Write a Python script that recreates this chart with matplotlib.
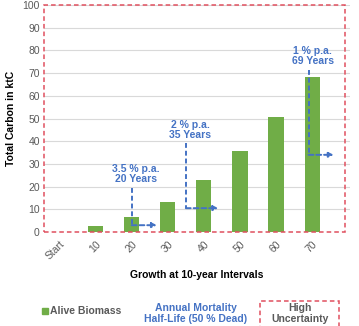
import matplotlib.pyplot as plt
import numpy as np
from matplotlib.patches import Rectangle

plt.rcParams['font.family'] = ['Liberation Sans', 'DejaVu Sans']

# data
categories = ['Start', '10', '20', '30', '40', '50', '60', '70']
alive_biomass = [0, 2.5, 6.6, 13.2, 22.9, 35.7, 50.8, 68.1]
rates = ['3.5 % p.a.', '2 % p.a.', '1 % p.a.']
half_life_years = [20, 35, 69]

green = '#70AD47'
blue = '#4472C4'
red = '#E0505F'
gray = '#595959'

fig = plt.figure(figsize=(3.59, 3.26), dpi=100)
ax = fig.add_axes([0.1226, 0.2883, 0.8524, 0.6964])

x = np.arange(len(categories))
ax.bar(x, alive_biomass, width=0.42, color=green, zorder=3)

ax.set_xlim(-0.43, 8.05)
ax.set_ylim(0, 100)
ax.set_yticks(np.arange(0, 101, 10))
ax.set_xticks(x)
ax.set_xticklabels(categories, rotation=45, ha='right', rotation_mode='anchor')
ax.tick_params(axis='both', length=0, labelsize=7.5, colors=gray, pad=3)
ax.tick_params(axis='x', pad=5)
ax.grid(axis='y', color='#D9D9D9', linewidth=0.8, zorder=0)
for s in ax.spines.values():
    s.set_visible(False)

ax.set_ylabel('Total Carbon in ktC', fontsize=7.5, fontweight='bold', labelpad=5)
ax.set_xlabel('Growth at 10-year Intervals', fontsize=7.5, fontweight='bold', labelpad=6)

# high uncertainty box on plot
ax.add_patch(Rectangle((0, 0), 0.984, 1, transform=ax.transAxes, fill=False,
                       edgecolor=red, linestyle=(0, (3, 2)), linewidth=1.1,
                       zorder=5, clip_on=False))

# half-life markers: (line top, line bottom, arrow length)
marker_geom = [(19.5, 3.0, 0.7), (39.0, 10.5, 0.9), (71.5, 34.0, 0.7)]
for rate, yrs, (top, bot, alen) in zip(rates, half_life_years, marker_geom):
    xp = yrs / 10
    ax.plot([xp, xp], [top, bot], color=blue, linestyle=(0, (2.5, 1.5)),
            linewidth=1.4, zorder=4)
    ax.annotate('', xy=(xp + alen, bot), xytext=(xp, bot),
                arrowprops=dict(arrowstyle='-|>', color=blue, linewidth=1.4,
                                linestyle=(0, (2.5, 1.5)), mutation_scale=7,
                                shrinkA=0, shrinkB=0), zorder=4)
    ax.text(xp + 0.12, top + 1.5, f'{rate}\n{yrs} Years', color=blue,
            fontsize=7.5, fontweight='bold', ha='center', va='bottom',
            linespacing=1.05, zorder=6)

# legend row
fig.patches.append(Rectangle((42 / 359, 1 - 314 / 326), 6 / 359, 6 / 326,
                             transform=fig.transFigure, color=green))
fig.text(50 / 359, 1 - 311 / 326, 'Alive Biomass', fontsize=7.5,
         fontweight='bold', color=gray, va='center', ha='left')
fig.text(196 / 359, 1 - 313.5 / 326, 'Annual Mortality\nHalf-Life (50 % Dead)',
         fontsize=7.5, fontweight='bold', color=blue, va='center', ha='center',
         linespacing=1.1)
fig.patches.append(Rectangle((260 / 359, 1 - 330 / 326), 79 / 359, 29 / 326,
                             transform=fig.transFigure, fill=False,
                             edgecolor=red, linestyle=(0, (3, 2)), linewidth=1.1))
fig.text(300 / 359, 1 - 313.5 / 326, 'High\nUncertainty', fontsize=7.5,
         fontweight='bold', color=gray, va='center', ha='center',
         linespacing=1.1)

fig.savefig('out.png', dpi=100)
plt.close()
